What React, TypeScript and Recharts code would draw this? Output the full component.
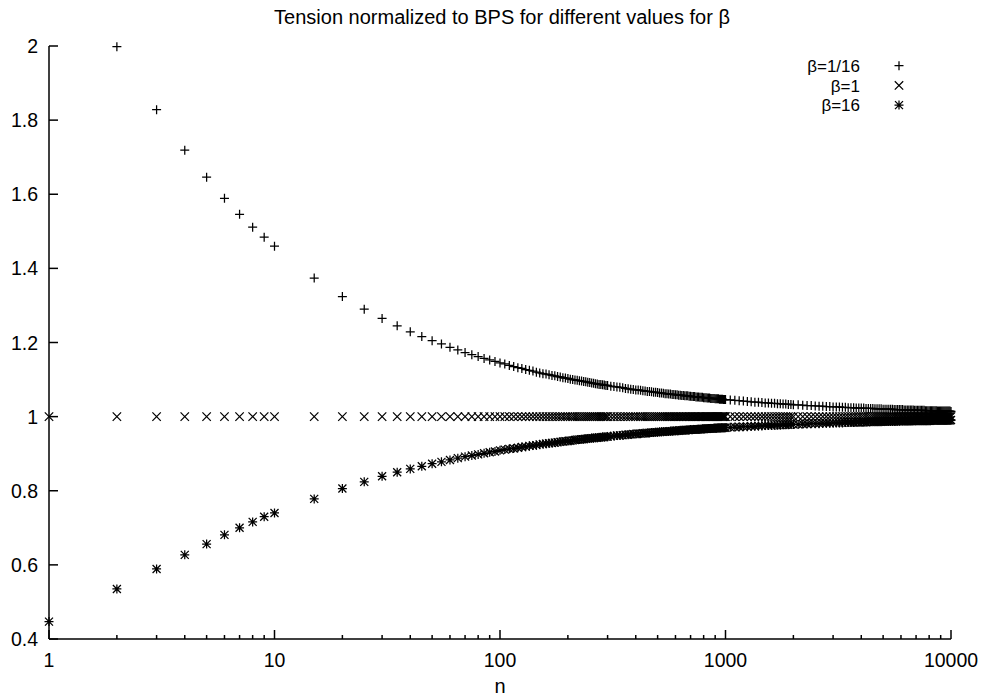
import React from 'react';
import { ScatterChart, Scatter, XAxis, YAxis } from 'recharts';

// n values where the tension was sampled
const nValues = [
  1, 2, 3, 4, 5, 6, 7, 8, 9, 10,
  15, 20, 25, 30, 35, 40, 45, 50, 55, 60, 65, 70, 75, 80, 85, 90, 95, 100,
  105, 110, 115, 120, 125, 130, 135, 140, 145, 150, 155, 160, 165, 170, 175, 180, 185, 190, 195, 200,
  205, 210, 215, 220, 225, 230, 235, 240, 245, 250, 255, 260, 265, 270, 275, 280, 285, 290, 295, 300,
  310, 320, 330, 340, 350, 360, 370, 380, 390, 400, 410, 420, 430, 440, 450, 460, 470, 480, 490, 500,
  510, 520, 530, 540, 550, 560, 570, 580, 590, 600, 610, 620, 630, 640, 650, 660, 670, 680, 690, 700,
  710, 720, 730, 740, 750, 760, 770, 780, 790, 800, 810, 820, 830, 840, 850, 860, 870, 880, 890, 900,
  910, 920, 930, 940, 950, 960, 970, 980, 990, 1000,
  1050, 1100, 1150, 1200, 1250, 1300, 1350, 1400, 1450, 1500, 1550, 1600, 1650, 1700, 1750, 1800, 1850, 1900, 1950, 2000,
  2100, 2200, 2300, 2400, 2500, 2600, 2700, 2800, 2900, 3000, 3100, 3200, 3300, 3400, 3500, 3600, 3700, 3800, 3900, 4000,
  4100, 4200, 4300, 4400, 4500, 4600, 4700, 4800, 4900, 5000, 5100, 5200, 5300, 5400, 5500, 5600, 5700, 5800, 5900, 6000,
  6100, 6200, 6300, 6400, 6500, 6600, 6700, 6800, 6900, 7000, 7100, 7200, 7300, 7400, 7500, 7600, 7700, 7800, 7900, 8000,
  8100, 8200, 8300, 8400, 8500, 8600, 8700, 8800, 8900, 9000, 9100, 9200, 9300, 9400, 9500, 9600, 9700, 9800, 9900, 10000,
];

// beta = 1/16 (n=1 is above the top of the plot)
const tensionBeta116: (number | null)[] = [
  null, 1.998, 1.828, 1.719, 1.646, 1.589, 1.546, 1.511, 1.484, 1.460,
  1.374, 1.324, 1.290, 1.265, 1.245, 1.229, 1.216, 1.205, 1.196, 1.187, 1.180, 1.173, 1.167, 1.162, 1.157, 1.153, 1.149, 1.145,
  1.142, 1.138, 1.135, 1.132, 1.130, 1.127, 1.125, 1.123, 1.120, 1.118, 1.116, 1.115, 1.113, 1.111, 1.110, 1.108, 1.107, 1.105, 1.104, 1.103,
  1.101, 1.100, 1.099, 1.098, 1.097, 1.096, 1.095, 1.094, 1.093, 1.092, 1.091, 1.090, 1.089, 1.088, 1.087, 1.087, 1.086, 1.085, 1.084, 1.084,
  1.082, 1.081, 1.080, 1.079, 1.078, 1.076, 1.075, 1.074, 1.073, 1.072, 1.072, 1.071, 1.070, 1.069, 1.068, 1.068, 1.067, 1.066, 1.066, 1.065,
  1.064, 1.064, 1.063, 1.062, 1.062, 1.061, 1.061, 1.060, 1.060, 1.059, 1.059, 1.058, 1.058, 1.057, 1.057, 1.056, 1.056, 1.056, 1.055, 1.055,
  1.054, 1.054, 1.054, 1.053, 1.053, 1.053, 1.052, 1.052, 1.052, 1.051, 1.051, 1.051, 1.050, 1.050, 1.050, 1.049, 1.049, 1.049, 1.049, 1.048,
  1.048, 1.048, 1.048, 1.047, 1.047, 1.047, 1.047, 1.046, 1.046, 1.046,
  1.045, 1.044, 1.043, 1.042, 1.041, 1.040, 1.039, 1.039, 1.038, 1.037, 1.037, 1.036, 1.036, 1.035, 1.035, 1.034, 1.034, 1.033, 1.033, 1.032,
  1.032, 1.031, 1.030, 1.030, 1.029, 1.028, 1.028, 1.027, 1.027, 1.026, 1.026, 1.026, 1.025, 1.025, 1.024, 1.024, 1.024, 1.023, 1.023, 1.023,
  1.023, 1.022, 1.022, 1.022, 1.022, 1.021, 1.021, 1.021, 1.021, 1.020, 1.020, 1.020, 1.020, 1.020, 1.020, 1.019, 1.019, 1.019, 1.019, 1.019,
  1.019, 1.018, 1.018, 1.018, 1.018, 1.018, 1.018, 1.018, 1.017, 1.017, 1.017, 1.017, 1.017, 1.017, 1.017, 1.017, 1.016, 1.016, 1.016, 1.016,
  1.016, 1.016, 1.016, 1.016, 1.016, 1.016, 1.015, 1.015, 1.015, 1.015, 1.015, 1.015, 1.015, 1.015, 1.015, 1.015, 1.015, 1.015, 1.015, 1.014,
];

// beta = 1
const tensionBeta1 = [
  1, 1, 1, 1, 1, 1, 1, 1, 1, 1,
  1, 1, 1, 1, 1, 1, 1, 1, 1, 1, 1, 1, 1, 1, 1, 1, 1, 1,
  1, 1, 1, 1, 1, 1, 1, 1, 1, 1, 1, 1, 1, 1, 1, 1, 1, 1, 1, 1,
  1, 1, 1, 1, 1, 1, 1, 1, 1, 1, 1, 1, 1, 1, 1, 1, 1, 1, 1, 1,
  1, 1, 1, 1, 1, 1, 1, 1, 1, 1, 1, 1, 1, 1, 1, 1, 1, 1, 1, 1,
  1, 1, 1, 1, 1, 1, 1, 1, 1, 1, 1, 1, 1, 1, 1, 1, 1, 1, 1, 1,
  1, 1, 1, 1, 1, 1, 1, 1, 1, 1, 1, 1, 1, 1, 1, 1, 1, 1, 1, 1,
  1, 1, 1, 1, 1, 1, 1, 1, 1, 1,
  1, 1, 1, 1, 1, 1, 1, 1, 1, 1, 1, 1, 1, 1, 1, 1, 1, 1, 1, 1,
  1, 1, 1, 1, 1, 1, 1, 1, 1, 1, 1, 1, 1, 1, 1, 1, 1, 1, 1, 1,
  1, 1, 1, 1, 1, 1, 1, 1, 1, 1, 1, 1, 1, 1, 1, 1, 1, 1, 1, 1,
  1, 1, 1, 1, 1, 1, 1, 1, 1, 1, 1, 1, 1, 1, 1, 1, 1, 1, 1, 1,
  1, 1, 1, 1, 1, 1, 1, 1, 1, 1, 1, 1, 1, 1, 1, 1, 1, 1, 1, 1,
];

// beta = 16
const tensionBeta16 = [
  0.447, 0.535, 0.589, 0.627, 0.656, 0.681, 0.700, 0.716, 0.730, 0.740,
  0.778, 0.806, 0.824, 0.839, 0.850, 0.859, 0.866, 0.873, 0.878, 0.883, 0.888, 0.892, 0.895, 0.898, 0.901, 0.904, 0.906, 0.909,
  0.911, 0.913, 0.914, 0.916, 0.918, 0.919, 0.921, 0.922, 0.923, 0.925, 0.926, 0.927, 0.928, 0.929, 0.930, 0.931, 0.932, 0.933, 0.934, 0.934,
  0.935, 0.936, 0.937, 0.938, 0.938, 0.939, 0.939, 0.940, 0.941, 0.941, 0.942, 0.942, 0.943, 0.943, 0.944, 0.944, 0.945, 0.945, 0.946, 0.946,
  0.947, 0.948, 0.949, 0.949, 0.950, 0.951, 0.951, 0.952, 0.953, 0.953, 0.954, 0.954, 0.955, 0.955, 0.956, 0.956, 0.957, 0.957, 0.958, 0.958,
  0.959, 0.959, 0.959, 0.960, 0.960, 0.960, 0.961, 0.961, 0.961, 0.962, 0.962, 0.962, 0.963, 0.963, 0.963, 0.963, 0.964, 0.964, 0.964, 0.965,
  0.965, 0.965, 0.965, 0.965, 0.966, 0.966, 0.966, 0.966, 0.967, 0.967, 0.967, 0.967, 0.967, 0.968, 0.968, 0.968, 0.968, 0.968, 0.969, 0.969,
  0.969, 0.969, 0.969, 0.969, 0.969, 0.970, 0.970, 0.970, 0.970, 0.970,
  0.971, 0.972, 0.972, 0.973, 0.973, 0.974, 0.974, 0.975, 0.975, 0.976, 0.976, 0.976, 0.977, 0.977, 0.977, 0.978, 0.978, 0.978, 0.979, 0.979,
  0.979, 0.980, 0.980, 0.981, 0.981, 0.981, 0.982, 0.982, 0.982, 0.983, 0.983, 0.983, 0.983, 0.984, 0.984, 0.984, 0.984, 0.985, 0.985, 0.985,
  0.985, 0.985, 0.986, 0.986, 0.986, 0.986, 0.986, 0.986, 0.986, 0.987, 0.987, 0.987, 0.987, 0.987, 0.987, 0.987, 0.987, 0.988, 0.988, 0.988,
  0.988, 0.988, 0.988, 0.988, 0.988, 0.988, 0.988, 0.989, 0.989, 0.989, 0.989, 0.989, 0.989, 0.989, 0.989, 0.989, 0.989, 0.989, 0.989, 0.989,
  0.989, 0.990, 0.990, 0.990, 0.990, 0.990, 0.990, 0.990, 0.990, 0.990, 0.990, 0.990, 0.990, 0.990, 0.990, 0.990, 0.990, 0.990, 0.990, 0.991,
];

const xTicks = [
  1, 2, 3, 4, 5, 6, 7, 8, 9,
  10, 20, 30, 40, 50, 60, 70, 80, 90,
  100, 200, 300, 400, 500, 600, 700, 800, 900,
  1000, 2000, 3000, 4000, 5000, 6000, 7000, 8000, 9000,
  10000,
];
const xTickLabels = ['1', '10', '100', '1000', '10000'];
const yTicks = [0.4, 0.6, 0.8, 1, 1.2, 1.4, 1.6, 1.8, 2];

const seriesNames = ['β=1/16', 'β=1', 'β=16'];
const title = 'Tension normalized to BPS for different values for β';
const xTitle = 'n';

const FONT = '"Liberation Sans", Arial, Helvetica, sans-serif';

const toPoints = (vals: (number | null)[]) =>
  nValues
    .map((n, i) => ({ n, v: vals[i] }))
    .filter((p) => p.v !== null && p.v !== undefined);

const plusPath = (x: number, y: number, r: number) =>
  `M${x - r},${y}H${x + r}M${x},${y - r}V${y + r}`;
const crossPath = (x: number, y: number, r: number) =>
  `M${x - r},${y - r}L${x + r},${y + r}M${x - r},${y + r}L${x + r},${y - r}`;

const markerPath = (kind: number, x: number, y: number) => {
  if (kind === 0) return plusPath(x, y, 4.5);
  if (kind === 1) return crossPath(x, y, 4.2);
  return plusPath(x, y, 4.5) + crossPath(x, y, 4);
};

const makeShape = (kind: number) => (props: any) => {
  const { cx, cy } = props;
  if (cx == null || cy == null) return <g />;
  return <path d={markerPath(kind, cx, cy)} stroke="#000" strokeWidth={1.25} fill="none" />;
};

function XTick(props: any) {
  const { x, y, payload } = props;
  const label = String(payload.value);
  const major = xTickLabels.includes(label);
  return (
    <g>
      <line x1={x} x2={x} y1={y} y2={y - (major ? 9 : 4)} stroke="#000" strokeWidth={1.5} />
      {major && (
        <text x={x} y={y + 28} textAnchor="middle" fontSize={19.5} fontFamily={FONT} fill="#000">
          {label}
        </text>
      )}
    </g>
  );
}

function YTick(props: any) {
  const { x, y, payload } = props;
  return (
    <g>
      <line x1={x} x2={x + 9} y1={y} y2={y} stroke="#000" strokeWidth={1.5} />
      <text x={x - 11} y={y + 7} textAnchor="end" fontSize={19.5} fontFamily={FONT} fill="#000">
        {String(payload.value)}
      </text>
    </g>
  );
}

const shapes = [makeShape(0), makeShape(1), makeShape(2)];
const seriesData = [toPoints(tensionBeta116), toPoints(tensionBeta1), toPoints(tensionBeta16)];

export default function App() {
  return (
    <div style={{ position: 'absolute', left: 0, top: 0, width: 985, height: 700, background: '#fff' }}>
      <ScatterChart width={985} height={700} margin={{ top: 46, right: 34, bottom: 0, left: 0 }}>
        <XAxis
          type="number"
          dataKey="n"
          scale="log"
          domain={[1, 10000]}
          ticks={xTicks}
          interval={0}
          tick={XTick}
          tickLine={false}
          tickSize={0}
          tickMargin={0}
          height={61}
          axisLine={{ stroke: '#000', strokeWidth: 1.5 }}
        />
        <YAxis
          type="number"
          dataKey="v"
          domain={[0.4, 2]}
          ticks={yTicks}
          interval={0}
          tick={YTick}
          tickLine={false}
          tickSize={0}
          tickMargin={0}
          width={49}
          axisLine={{ stroke: '#000', strokeWidth: 1.5 }}
        />
        {seriesData.map((d, i) => (
          <Scatter key={seriesNames[i]} name={seriesNames[i]} data={d} shape={shapes[i]} isAnimationActive={false} />
        ))}
      </ScatterChart>
      <svg
        width={985}
        height={700}
        style={{ position: 'absolute', left: 0, top: 0, pointerEvents: 'none' }}
      >
        <text x={502} y={24} textAnchor="middle" fontSize={20} fontFamily={FONT} fill="#000">
          {title}
        </text>
        <text x={500} y={693} textAnchor="middle" fontSize={20} fontFamily={FONT} fill="#000">
          {xTitle}
        </text>
        {seriesNames.map((name, i) => (
          <g key={name}>
            <text x={860} y={72 + i * 19.7} textAnchor="end" fontSize={17} fontFamily={FONT} fill="#000">
              {name}
            </text>
            <path d={markerPath(i, 899, 65.7 + i * 19.7)} stroke="#000" strokeWidth={1.25} fill="none" />
          </g>
        ))}
      </svg>
    </div>
  );
}
